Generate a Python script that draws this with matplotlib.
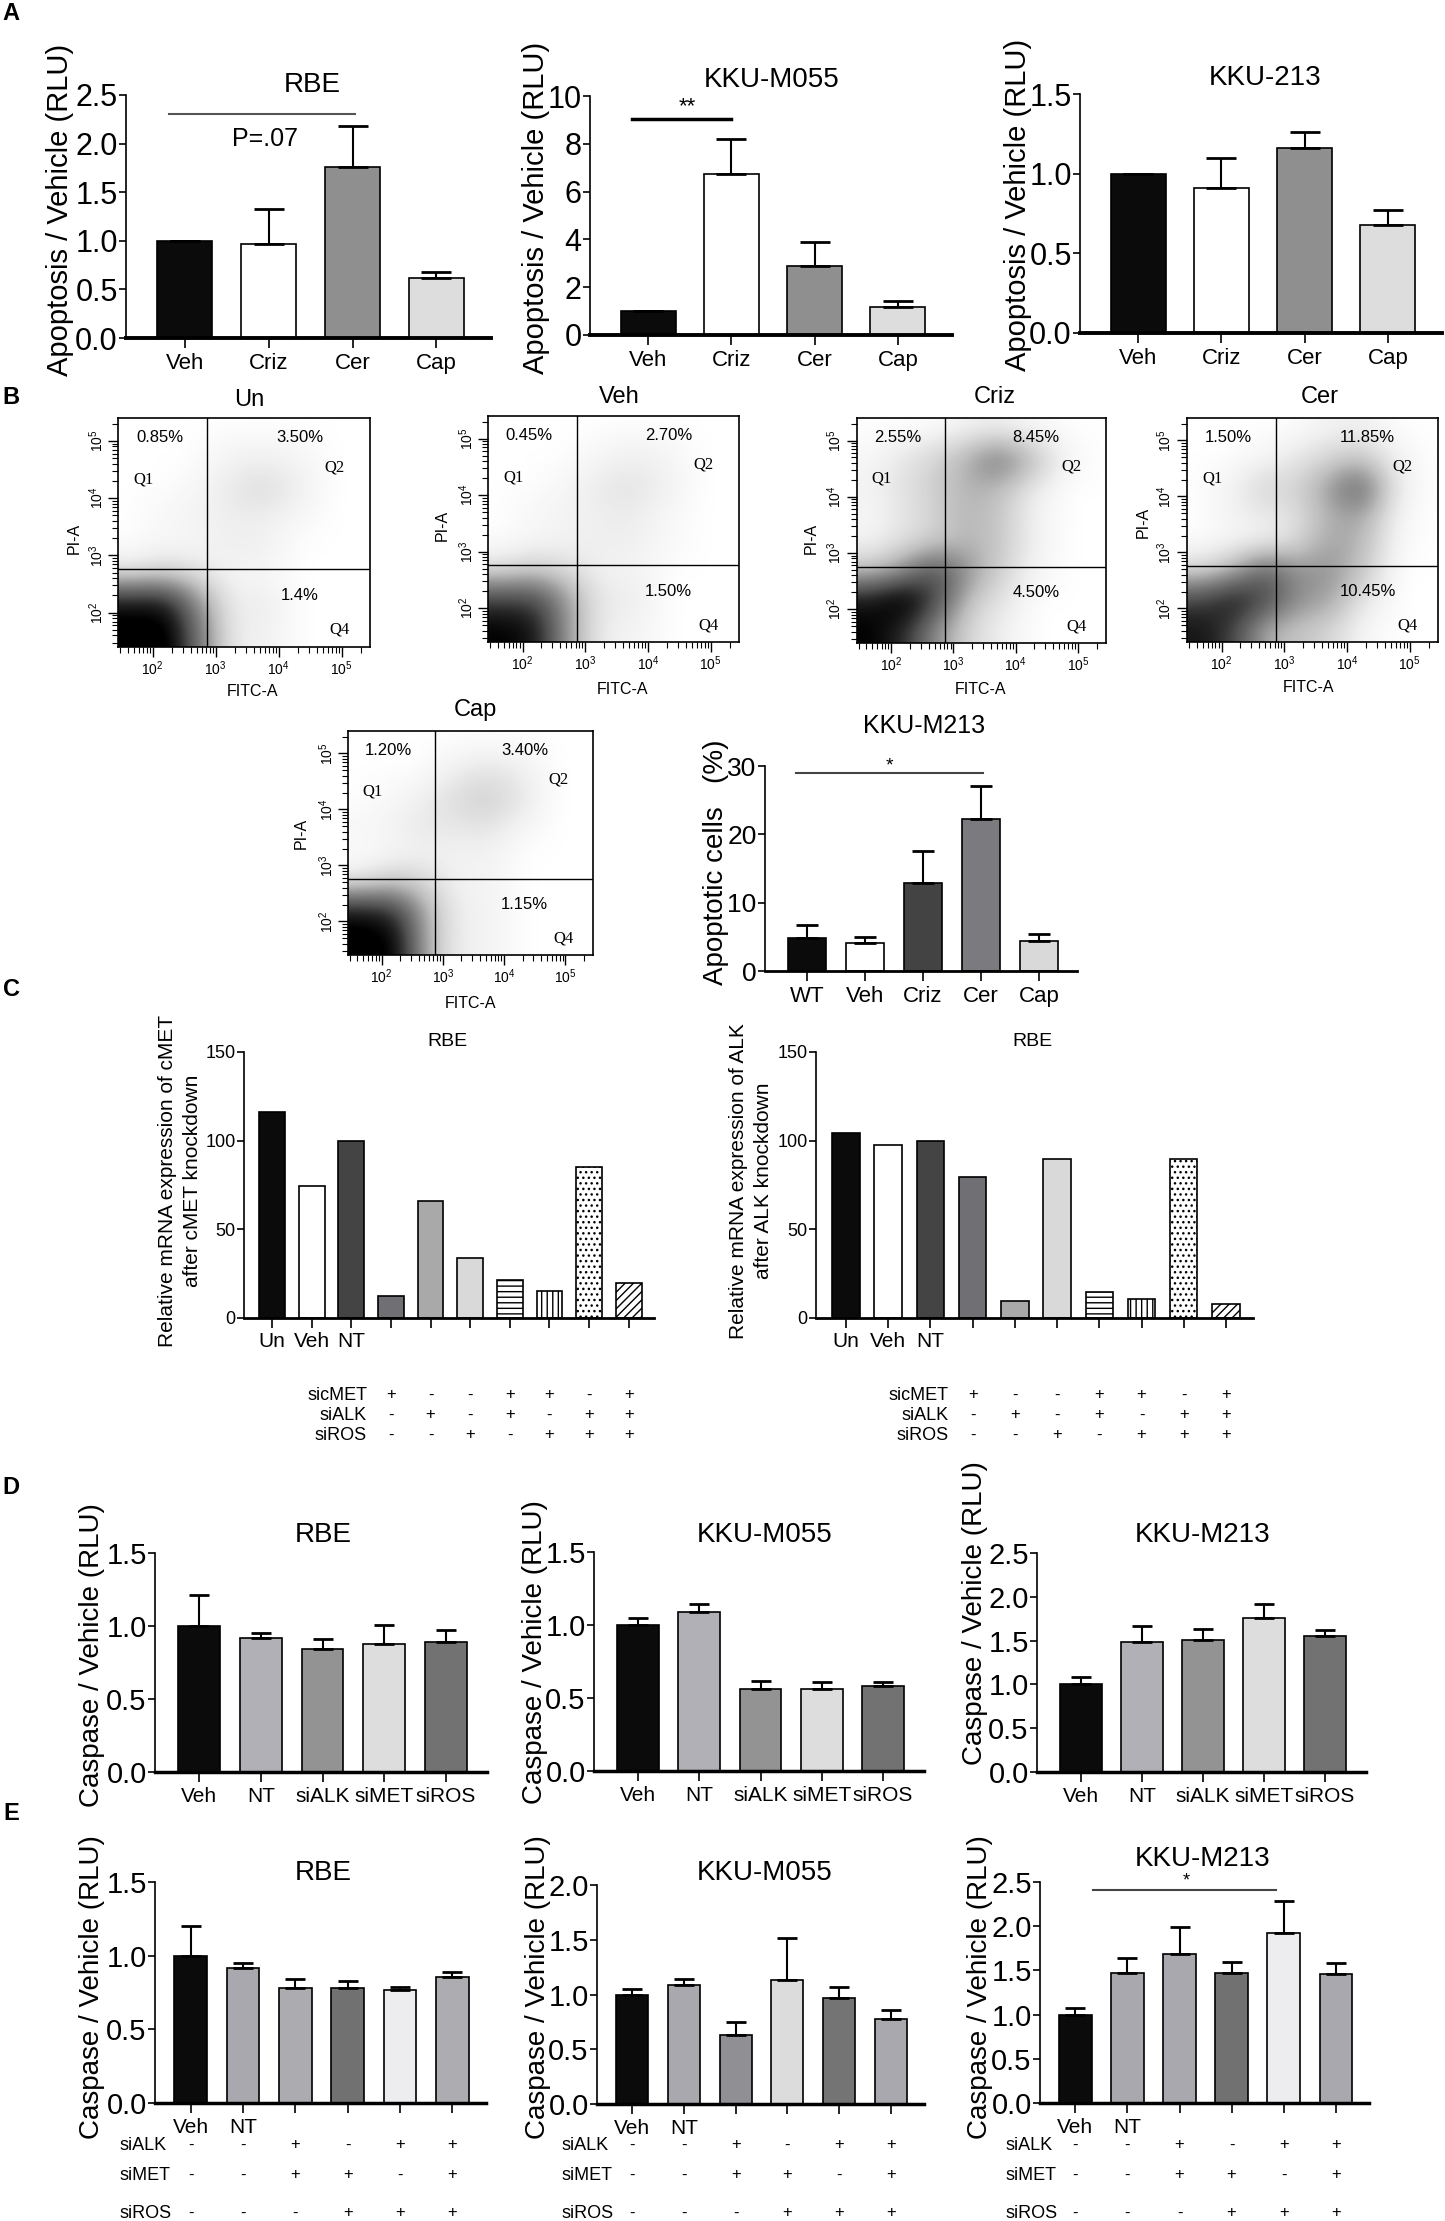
import numpy as np
import matplotlib
matplotlib.use("Agg")
import matplotlib.pyplot as plt
from matplotlib import transforms
from matplotlib.colors import PowerNorm

W, H = 1445, 2221

plt.rcParams['font.family'] = ['Liberation Sans', 'DejaVu Sans']
plt.rcParams['mathtext.fontset'] = 'custom'
plt.rcParams['mathtext.rm'] = 'Liberation Sans'
plt.rcParams['hatch.linewidth'] = 1.0
plt.rcParams['hatch.color'] = 'black'

# ---------------- data ----------------
# A: apoptosis / vehicle
a_groups = ['Veh', 'Criz', 'Cer', 'Cap']
a_colors = ['#0b0b0b', '#ffffff', '#8f8f8f', '#dcdddc']
a_rbe = [1.0, 0.97, 1.76, 0.62]
a_rbe_err = [0.0, 0.36, 0.42, 0.06]
a_m055 = [1.0, 6.75, 2.88, 1.18]
a_m055_err = [0.0, 1.43, 1.01, 0.25]
a_213 = [1.0, 0.91, 1.16, 0.68]
a_213_err = [0.0, 0.19, 0.10, 0.09]

# B: flow cytometry, estimated dot density (0-10) on a log10 grid,
# rows from high PI (top) to low PI, columns from low FITC to high FITC
flow_un = [
    [0, 0, 0, 0, 0, 0, 0, 0],
    [0, 0, 0, 0.2, 0.3, 0.2, 0, 0],
    [0, 0, 0.1, 0.4, 0.8, 0.4, 0, 0],
    [0, 0.1, 0.2, 0.3, 0.3, 0.1, 0, 0],
    [0, 0.1, 0.1, 0.3, 0.3, 0, 0, 0],
    [0.5, 1.0, 0.6, 0.1, 0.1, 0, 0, 0],
    [8, 8, 3, 0.3, 0.4, 0, 0, 0],
    [10, 10, 4, 0.3, 0.3, 0, 0, 0],
]
flow_veh = [
    [0, 0, 0, 0, 0, 0, 0, 0],
    [0, 0, 0, 0.1, 0.3, 0.2, 0, 0],
    [0, 0, 0.1, 0.4, 0.6, 0.3, 0, 0],
    [0, 0.1, 0.2, 0.3, 0.4, 0.1, 0, 0],
    [0, 0.1, 0.2, 0.3, 0.3, 0.1, 0, 0],
    [0.6, 1.2, 0.8, 0.2, 0.2, 0, 0, 0],
    [6, 6, 2.5, 0.4, 0.4, 0, 0, 0],
    [9, 8, 2.5, 0.3, 0.2, 0, 0, 0],
]
flow_criz = [
    [0, 0, 0, 0.2, 0.3, 0.1, 0, 0],
    [0.1, 0.5, 1.0, 2.0, 4.0, 2.0, 0.2, 0],
    [0.2, 0.6, 1.2, 2.0, 1.8, 0.4, 0, 0],
    [0.1, 0.5, 1.0, 2.0, 1.5, 0.3, 0, 0],
    [0.2, 0.7, 1.3, 2.0, 1.5, 0.3, 0, 0],
    [1.5, 3.0, 6.0, 3.0, 1.2, 0.2, 0, 0],
    [8, 10, 6, 1.5, 0.6, 0, 0, 0],
    [9, 7, 3, 1.0, 0.3, 0, 0, 0],
]
flow_cer = [
    [0, 0, 0, 0, 0.2, 0.3, 0, 0],
    [0, 0, 0.1, 0.5, 1.0, 1.5, 0.3, 0],
    [0, 0.2, 1.0, 1.0, 2.5, 5.0, 0.5, 0],
    [0, 0.2, 0.4, 0.6, 2.0, 2.5, 0.2, 0],
    [0, 0.1, 0.2, 0.8, 2.5, 2.0, 0.1, 0],
    [0.8, 2.0, 5.0, 3.0, 3.0, 1.5, 0, 0],
    [6, 8, 6, 3.0, 2.5, 0.5, 0, 0],
    [8, 6, 2, 1.5, 1.0, 0.1, 0, 0],
]
flow_cap = [
    [0, 0, 0, 0, 0, 0, 0, 0],
    [0, 0, 0, 0.3, 0.6, 0.4, 0, 0],
    [0, 0.1, 0.3, 0.8, 1.2, 0.6, 0, 0],
    [0.1, 0.2, 0.5, 0.4, 0.5, 0.1, 0, 0],
    [0, 0.1, 0.2, 0.2, 0.2, 0, 0, 0],
    [0.5, 1.5, 1.0, 0.2, 0.2, 0, 0, 0],
    [8, 7, 2, 0.3, 0.2, 0, 0, 0],
    [10, 9, 2, 0.3, 0.2, 0, 0, 0],
]
flow_pcts = {
    'Un': ['0.85%', '3.50%', '1.4%'],
    'Veh': ['0.45%', '2.70%', '1.50%'],
    'Criz': ['2.55%', '8.45%', '4.50%'],
    'Cer': ['1.50%', '11.85%', '10.45%'],
    'Cap': ['1.20%', '3.40%', '1.15%'],
}
FX0, FX1, FY0, FY1 = 1.45, 5.45, 1.4, 5.4
GATE_X, GATE_Y = 2.87, 2.76
flow_decades = [2, 3, 4, 5]

b_groups = ['WT', 'Veh', 'Criz', 'Cer', 'Cap']
b_vals = [4.8, 4.05, 12.9, 22.3, 4.45]
b_err = [1.95, 0.9, 4.7, 4.8, 0.95]
b_colors = ['#0b0b0b', '#ffffff', '#434343', '#7b7a7f', '#d9d9d9']

# C: relative mRNA
c_ticklabels = ['Un', 'Veh', 'NT', '', '', '', '', '', '', '']
c_met = [116, 74.5, 100, 12.4, 66, 34, 21.5, 15.5, 85, 20]
c_alk = [104.5, 97.7, 99.8, 79.7, 9.4, 89.4, 14.6, 10.5, 89.4, 7.9]
c_colors = ['#0b0b0b', '#ffffff', '#444444', '#707074', '#a9a9a9',
            '#d9d9d9', '#ffffff', '#ffffff', '#ffffff', '#ffffff']
c_hatches = ['', '', '', '', '', '', '---', '|||', '...', '////']
c_sign_rows = ['sicMET', 'siALK', 'siROS']
c_signs = [['+', '-', '-', '+', '+', '-', '+'],
           ['-', '+', '-', '+', '-', '+', '+'],
           ['-', '-', '+', '-', '+', '+', '+']]

# D: caspase / vehicle
d_groups = ['Veh', 'NT', 'siALK', 'siMET', 'siROS']
d_colors = ['#0b0b0b', '#b1b0b6', '#939393', '#dddddd', '#727272']
d_rbe = [1.0, 0.92, 0.84, 0.88, 0.89]
d_rbe_err = [0.21, 0.035, 0.07, 0.125, 0.08]
d_m055 = [1.0, 1.09, 0.56, 0.56, 0.585]
d_m055_err = [0.05, 0.055, 0.055, 0.05, 0.025]
d_m213 = [1.0, 1.485, 1.505, 1.76, 1.555]
d_m213_err = [0.085, 0.18, 0.13, 0.16, 0.065]

# E: caspase / vehicle, combined knockdowns
e_ticklabels = ['Veh', 'NT', '', '', '', '']
e_rbe = [1.0, 0.915, 0.78, 0.783, 0.77, 0.855]
e_rbe_err = [0.2, 0.035, 0.065, 0.047, 0.017, 0.033]
e_rbe_colors = ['#0b0b0b', '#a9a8ae', '#acabb0', '#717171', '#ededef', '#adacb1']
e_m055 = [1.0, 1.09, 0.626, 1.134, 0.967, 0.778]
e_m055_err = [0.05, 0.055, 0.125, 0.383, 0.097, 0.082]
e_m055_colors = ['#0b0b0b', '#a9a8ae', '#8f8f94', '#dcdcdc', '#747474', '#a9a8ae']
e_m213 = [1.0, 1.471, 1.68, 1.467, 1.925, 1.46]
e_m213_err = [0.07, 0.174, 0.313, 0.125, 0.365, 0.12]
e_m213_colors = ['#0b0b0b', '#a9a8ae', '#a9a8ae', '#717171', '#ededef', '#a9a8ae']
e_sign_rows = ['siALK', 'siMET', 'siROS']
e_signs = [['-', '-', '+', '-', '+', '+'],
           ['-', '-', '+', '+', '-', '+'],
           ['-', '-', '-', '+', '+', '+']]

fig = plt.figure(figsize=(W / 100, H / 100), dpi=100)


def px_axes(l, t, r, b):
    return fig.add_axes([l / W, 1 - b / H, (r - l) / W, (b - t) / H])


def px_text(x, y, s, **kw):
    kw.setdefault('ha', 'center')
    kw.setdefault('va', 'center')
    return fig.text(x / W, 1 - y / H, s, **kw)


def bar_panel(box, values, errors, colors, ylim, yticks, ylabels, xlim, width,
              xlabels, ytick_size=21, xtick_size=15, bottom_lw=2.5, capsize=7,
              hatches=None):
    ax = px_axes(*box)
    xs = np.arange(len(values))
    if hatches is None:
        hatches = [''] * len(values)
    for x, v, c, h in zip(xs, values, colors, hatches):
        ax.bar(x, v, width, color=c, edgecolor='black', linewidth=1.2,
               hatch=h or None, zorder=2)
    if errors is not None:
        ax.errorbar(xs, values, yerr=[np.zeros(len(values)), errors],
                    fmt='none', ecolor='black', elinewidth=1.5,
                    capsize=capsize, capthick=2.0, zorder=3)
    ax.set_xlim(*xlim)
    ax.set_ylim(*ylim)
    ax.set_yticks(yticks)
    ax.set_yticklabels(ylabels, fontsize=ytick_size)
    ax.set_xticks(xs)
    ax.set_xticklabels(xlabels, fontsize=xtick_size)
    for s in ('top', 'right'):
        ax.spines[s].set_visible(False)
    ax.spines['left'].set_linewidth(1.2)
    ax.spines['bottom'].set_linewidth(bottom_lw)
    ax.tick_params(axis='y', direction='out', length=5, width=1.2, pad=1)
    ax.tick_params(axis='x', direction='out', length=7, width=1.2, pad=4)
    ax.patch.set_alpha(0)
    return ax


def fmt(ticks, f):
    return [f.format(t) for t in ticks]


# ---------------- panel letters ----------------
for letter, (x, y) in zip('ABCDE', [(11, 14), (11, 397), (11, 990), (11, 1487), (11, 1813)]):
    px_text(x, y, letter, fontsize=17, fontweight='bold')

# ---------------- A ----------------
a_xlim = (-0.7, 3.65)
t = [0, 0.5, 1.0, 1.5, 2.0, 2.5]
ax = bar_panel((126, 95, 491, 338), a_rbe, a_rbe_err, a_colors, (0, 2.5), t,
               fmt(t, '{:.1f}'), a_xlim, 0.66, a_groups, ytick_size=22,
               xtick_size=16, bottom_lw=2.8, capsize=11)
ax.plot([-0.19, 2.03], [2.30, 2.30], color='#555555', lw=1.5, clip_on=False)
ax.text(0.96, 2.05, 'P=.07', ha='center', va='center', fontsize=18)
px_text(312, 85, 'RBE', fontsize=20)
px_text(60, 210, 'Apoptosis / Vehicle (RLU)', fontsize=21, rotation=90)

t = [0, 2, 4, 6, 8, 10]
ax = bar_panel((590, 96, 952, 335), a_m055, a_m055_err, a_colors, (0, 10), t,
               fmt(t, '{:d}'), a_xlim, 0.66, a_groups, ytick_size=22,
               xtick_size=16, bottom_lw=2.8, capsize=11)
ax.plot([-0.2, 0.99], [9.05, 9.05], color='black', lw=2.5, clip_on=False)
ax.text(0.47, 9.55, '**', ha='center', va='center', fontsize=16)
px_text(772, 80, 'KKU-M055', fontsize=20)
px_text(536, 208, 'Apoptosis / Vehicle (RLU)', fontsize=21, rotation=90)

t = [0, 0.5, 1.0, 1.5]
ax = bar_panel((1080, 94, 1442, 333), a_213, a_213_err, a_colors, (0, 1.5), t,
               fmt(t, '{:.1f}'), a_xlim, 0.66, a_groups, ytick_size=22,
               xtick_size=16, bottom_lw=2.8, capsize=11)
px_text(1265, 78, 'KKU-213', fontsize=20)
px_text(1018, 205, 'Apoptosis / Vehicle (RLU)', fontsize=21, rotation=90)


# ---------------- B: flow ----------------
def flow_panel(box, grid, name, title_xy, pia_xy, fitc_xy):
    ax = px_axes(*box)
    ax.imshow(np.array(grid, dtype=float), origin='upper',
              extent=(FX0, FX1, FY0, FY1), cmap='Greys',
              norm=PowerNorm(gamma=0.6, vmin=0, vmax=9, clip=True),
              interpolation='bicubic', aspect='auto', zorder=0)
    ax.axvline(GATE_X, color='black', lw=1.0)
    ax.axhline(GATE_Y, color='black', lw=1.0)
    ax.set_xlim(FX0, FX1)
    ax.set_ylim(FY0, FY1)
    minor = [np.log10(k) + d for d in range(1, 6) for k in range(2, 10)]
    minor_x = [m for m in minor if FX0 < m < FX1]
    minor_y = [m for m in minor if FY0 < m < FY1]
    labels = ['$\\mathregular{10^{%d}}$' % d for d in flow_decades]
    ax.set_xticks(flow_decades)
    ax.set_xticklabels(labels, fontsize=10)
    ax.set_yticks(flow_decades)
    ax.set_yticklabels(labels, fontsize=10, rotation=90, va='center')
    ax.set_xticks(minor_x, minor=True)
    ax.set_yticks(minor_y, minor=True)
    ax.tick_params(which='major', direction='out', length=7, width=1.0, pad=2)
    ax.tick_params(which='minor', direction='out', length=4, width=0.8)
    for s in ax.spines.values():
        s.set_linewidth(1.2)
    p1, p2, p4 = flow_pcts[name]
    ax.text(0.165, 0.915, p1, transform=ax.transAxes, ha='center', va='center', fontsize=12)
    ax.text(0.72, 0.915, p2, transform=ax.transAxes, ha='center', va='center', fontsize=12)
    ax.text(0.72, 0.225, p4, transform=ax.transAxes, ha='center', va='center', fontsize=12)
    for q, (qx, qy) in zip(['Q1', 'Q2', 'Q4'], [(0.10, 0.73), (0.86, 0.785), (0.88, 0.075)]):
        ax.text(qx, qy, q, transform=ax.transAxes, ha='center', va='center',
                fontsize=12, family='Liberation Serif')
    px_text(title_xy[0], title_xy[1], name, fontsize=17)
    px_text(pia_xy[0], pia_xy[1], 'PI-A', fontsize=11.5, rotation=90)
    px_text(fitc_xy[0], fitc_xy[1], 'FITC-A', fontsize=11.5)
    return ax


flow_panel((118, 418, 370, 647), flow_un, 'Un', (249, 400), (74, 538), (252, 692))
flow_panel((488, 416, 739, 642), flow_veh, 'Veh', (619, 397), (442, 525), (622, 690))
flow_panel((857, 418, 1106, 643), flow_criz, 'Criz', (995, 397), (811, 538), (981, 690))
flow_panel((1187, 418, 1438, 642), flow_cer, 'Cer', (1320, 397), (1143, 522), (1309, 687))
flow_panel((348, 731, 593, 955), flow_cap, 'Cap', (475, 710), (301, 833), (471, 1003))

t = [0, 10, 20, 30]
ax = bar_panel((765, 766, 1077, 971), b_vals, b_err, b_colors, (0, 30), t,
               fmt(t, '{:d}'), (-0.72, 4.65), 0.66, b_groups, ytick_size=19,
               xtick_size=16, bottom_lw=2.0, capsize=8)
ax.plot([-0.19, 3.03], [29.0, 29.0], color='#444444', lw=1.5, clip_on=False)
ax.text(1.43, 30.0, '*', ha='center', va='center', fontsize=14)
px_text(924, 726, 'KKU-M213', fontsize=18)
px_text(716, 862, 'Apoptotic cells   (%)', fontsize=20, rotation=90)

# ---------------- C ----------------
t = [0, 50, 100, 150]
c_boxes = [(244, 1052, 654, 1318), (816, 1052, 1253, 1318)]
c_titles = [(447, 1042), (1032, 1042)]
c_ylabels = ['Relative mRNA expression of cMET\nafter cMET knockdown',
             'Relative mRNA expression of ALK\nafter ALK knockdown']
c_ylab_x = [180, 751]
c_sign_lab_x = [367, 949]
for box, vals, title_xy, ylab, yx, lx in zip(c_boxes, [c_met, c_alk], c_titles,
                                            c_ylabels, c_ylab_x, c_sign_lab_x):
    ax = bar_panel(box, vals, None, c_colors, (0, 150), t, fmt(t, '{:d}'),
                   (-0.71, 9.64), 0.65, c_ticklabels, ytick_size=13,
                   xtick_size=15, bottom_lw=2.0, hatches=c_hatches)
    ax.tick_params(axis='x', pad=3)
    px_text(title_xy[0], title_xy[1], 'RBE', fontsize=14)
    px_text(yx, 1181, ylab, fontsize=15, rotation=90, linespacing=1.35)
    tr = transforms.blended_transform_factory(ax.transData, fig.transFigure)
    for row, name, y in zip(c_signs, c_sign_rows, [1395, 1415, 1435]):
        px_text(lx, y, name, fontsize=13, ha='right')
        for i, s in enumerate(row):
            ax.text(3 + i, 1 - y / H, s, transform=tr, ha='center', va='center',
                    fontsize=12)

# ---------------- D ----------------
d_xlim = (-0.72, 4.67)
t = [0, 0.5, 1.0, 1.5]
bar_panel((155, 1553, 487, 1772), d_rbe, d_rbe_err, d_colors, (0, 1.5), t,
          fmt(t, '{:.1f}'), d_xlim, 0.68, d_groups)
px_text(323, 1535, 'RBE', fontsize=20)
px_text(92, 1655, 'Caspase / Vehicle (RLU)', fontsize=20, rotation=90)

bar_panel((594, 1552, 924, 1771), d_m055, d_m055_err, d_colors, (0, 1.5), t,
          fmt(t, '{:.1f}'), d_xlim, 0.68, d_groups)
px_text(765, 1535, 'KKU-M055', fontsize=20)
px_text(535, 1652, 'Caspase / Vehicle (RLU)', fontsize=20, rotation=90)

t = [0, 0.5, 1.0, 1.5, 2.0, 2.5]
bar_panel((1037, 1553, 1366, 1772), d_m213, d_m213_err, d_colors, (0, 2.5), t,
          fmt(t, '{:.1f}'), d_xlim, 0.68, d_groups)
px_text(1203, 1535, 'KKU-M213', fontsize=20)
px_text(975, 1613, 'Caspase / Vehicle (RLU)', fontsize=20, rotation=90)

# ---------------- E ----------------
e_xlim = (-0.68, 5.64)
e_boxes = [(155, 1882, 486, 2103), (597, 1885, 924, 2104), (1040, 1882, 1369, 2103)]
e_vals = [e_rbe, e_m055, e_m213]
e_errs = [e_rbe_err, e_m055_err, e_m213_err]
e_cols = [e_rbe_colors, e_m055_colors, e_m213_colors]
e_ylims = [1.5, 2.0, 2.5]
e_titles = [('RBE', 323, 1873), ('KKU-M055', 765, 1873), ('KKU-M213', 1203, 1859)]
e_ylab_x = [92, 538, 980]
e_lab_x = [120, 562, 1005]
e_axes = []
for box, vals, errs, cols, ymax, (title, tx, ty), yx, lx in zip(
        e_boxes, e_vals, e_errs, e_cols, e_ylims, e_titles, e_ylab_x, e_lab_x):
    t = list(np.arange(0, ymax + 0.01, 0.5))
    ax = bar_panel(box, vals, errs, cols, (0, ymax), t, fmt(t, '{:.1f}'),
                   e_xlim, 0.62, e_ticklabels)
    e_axes.append(ax)
    px_text(tx, ty, title, fontsize=20)
    px_text(yx, 1987, 'Caspase / Vehicle (RLU)', fontsize=20, rotation=90)
    tr = transforms.blended_transform_factory(ax.transData, fig.transFigure)
    for row, name, y in zip(e_signs, e_sign_rows, [2145, 2175, 2213]):
        px_text(lx, y, name, fontsize=13, ha='left')
        for i, s in enumerate(row):
            ax.text(i, 1 - y / H, s, transform=tr, ha='center', va='center',
                    fontsize=12)

e_axes[2].plot([0.33, 3.85], [2.41, 2.41], color='#444444', lw=1.5, clip_on=False)
e_axes[2].text(2.13, 2.51, '*', ha='center', va='center', fontsize=13)

fig.savefig('out.png', dpi=100)
